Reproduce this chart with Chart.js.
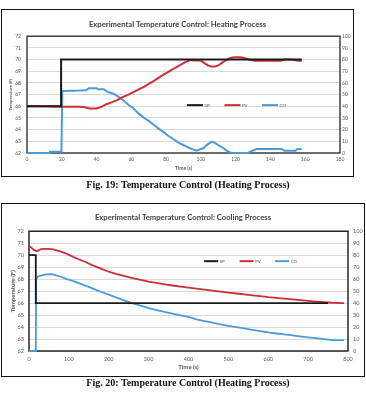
<!DOCTYPE html>
<html><head><meta charset="utf-8">
<script src="https://cdn.jsdelivr.net/npm/chart.js@4.4.1/dist/chart.umd.min.js"></script>
<style>
html,body{margin:0;padding:0;background:#fff;width:366px;height:401px;overflow:hidden;position:relative}
canvas{position:absolute}
.frame{position:absolute;border:1.5px solid #111;box-sizing:border-box;pointer-events:none}
.cap{position:absolute;font-family:"Liberation Serif","Times New Roman",serif;font-weight:bold;font-size:10px;color:#111;white-space:nowrap;transform:translateX(-50%);line-height:12px}
</style></head><body>
<canvas id="c1" width="353" height="168" style="left:1px;top:9px"></canvas>
<div class="frame" style="left:1px;top:9px;width:353px;height:168px"></div>
<div class="cap" style="left:188px;top:179px">Fig. 19: Temperature Control (Heating Process)</div>
<canvas id="c2" width="364" height="174" style="left:1px;top:203px"></canvas>
<div class="frame" style="left:1px;top:203px;width:364px;height:174px"></div>
<div class="cap" style="left:188px;top:377px">Fig. 20: Temperature Control (Heating Process)</div>
<script>
// ---------- Heating process (Fig. 19) ----------
const heatTitle = 'Experimental Temperature Control: Heating Process';
const heatSpTime = [0, 19.6, 19.6, 158];
const heatSpTemp = [66, 66, 70, 70];
const heatPvTime = [0, 10, 20, 30, 33, 36, 40, 43, 46, 49, 52, 55, 58, 61, 64, 67, 70, 73, 76, 79, 82, 85, 88, 91, 94, 97, 100, 102, 104, 106, 108, 110, 112, 114, 116, 118, 120, 122, 124, 126, 128, 131, 135, 140, 146, 148, 152, 156, 158];
const heatPvTemp = [66.0, 66.0, 65.97, 65.97, 65.92, 65.82, 65.82, 65.97, 66.2, 66.36, 66.55, 66.78, 66.98, 67.2, 67.42, 67.65, 67.92, 68.18, 68.47, 68.75, 69.02, 69.28, 69.52, 69.78, 69.95, 69.92, 69.92, 69.7, 69.5, 69.4, 69.4, 69.5, 69.72, 69.9, 70.08, 70.18, 70.2, 70.2, 70.17, 70.08, 70.0, 69.9, 69.9, 69.9, 69.9, 70.0, 70.0, 69.9, 69.9];
const heatCoTime = [0, 13, 13.2, 19.8, 20.3, 30, 34, 35.5, 40, 41, 44, 47, 50, 52, 54.4, 58.3, 61, 64, 67, 70, 73, 75.5, 78, 81.2, 84, 87, 89, 91.8, 94.7, 97.6, 99.5, 101.4, 103.3, 106.2, 108.1, 110, 112.8, 114.8, 116.7, 118, 127, 129, 132, 146.5, 148, 154.5, 155.5, 158];
const heatCoPct = [0, 0, 1, 1, 53.2, 53.5, 53.8, 55.5, 55.5, 54.7, 54.7, 52, 50.5, 48.8, 46.2, 41.3, 38.5, 33.9, 30.5, 27.5, 24, 21.1, 18.5, 14.8, 12, 9.1, 7.5, 5.4, 3.4, 2, 3.2, 4, 6.8, 9.7, 8.7, 6.8, 4.3, 2, 0.5, 0, 0, 1.5, 3.5, 3.5, 2, 2, 3.5, 3.5];

// ---------- Cooling process (Fig. 20) ----------
const coolTitle = 'Experimental Temperature Control: Cooling Process';
const coolSpTime = [0, 17, 17, 750];
const coolSpTemp = [70, 70, 66, 66];
const coolPvTime = [0, 5, 10, 15, 20, 25, 30, 40, 50, 60, 70, 80, 90, 100, 120, 140, 160, 180, 200, 220, 240, 260, 280, 300, 320, 340, 360, 380, 400, 420, 440, 460, 480, 500, 520, 540, 560, 580, 600, 620, 640, 660, 680, 700, 720, 740, 760, 790];
const coolPvTemp = [70.8, 70.65, 70.5, 70.4, 70.33, 70.42, 70.5, 70.52, 70.52, 70.48, 70.4, 70.3, 70.18, 70.03, 69.72, 69.45, 69.15, 68.88, 68.62, 68.42, 68.25, 68.08, 67.94, 67.8, 67.68, 67.57, 67.47, 67.38, 67.3, 67.21, 67.13, 67.04, 66.96, 66.88, 66.8, 66.72, 66.65, 66.58, 66.5, 66.44, 66.37, 66.31, 66.25, 66.19, 66.13, 66.08, 66.03, 66.0];
const coolCoTime = [0, 17, 18, 22, 30, 37, 45, 54, 62, 70, 80, 95, 110, 130, 150, 165, 180, 200, 220, 240, 260, 280, 300, 320, 340, 360, 380, 400, 420, 440, 460, 480, 500, 520, 540, 560, 580, 600, 620, 640, 660, 680, 700, 720, 740, 760, 790];
const coolCoPct = [0, 0, 60.5, 62, 63, 63.6, 64, 64.2, 63.8, 63, 62, 60, 58.5, 56, 53.5, 51.5, 49.5, 47, 44.5, 42, 39.8, 37.8, 35.8, 34.2, 32.6, 31.2, 29.8, 28.5, 26.5, 25, 23.6, 22.3, 21, 19.9, 18.8, 17.7, 16.6, 15.5, 14.6, 13.8, 13, 12.2, 11.4, 10.7, 10, 9, 9];

const seriesNames = ['SP', 'PV', 'CO'];
const seriesColors = ['#1a1a1a', '#cf2f34', '#4d9bd6'];

Chart.defaults.font.family = 'Lato';
Chart.defaults.color = '#595959';

function pts(t, v) { return t.map((x, i) => ({ x: x, y: v[i] })); }

const frameAndLegend = {
  id: 'frameAndLegend',
  beforeDatasetsDraw(chart) {
    const o = chart.options.plugins.frameAndLegend;
    const a = chart.chartArea, ctx = chart.ctx;
    ctx.save();
    ctx.strokeStyle = o.borderColor;
    ctx.lineWidth = o.borderWidth;
    ctx.strokeRect(a.left, a.top, a.right - a.left, a.bottom - a.top);
    ctx.restore();
  },
  afterDatasetsDraw(chart) {
    const o = chart.options.plugins.frameAndLegend;
    const a = chart.chartArea, ctx = chart.ctx;
    const y = a.top + o.legendY * (a.bottom - a.top);
    let x = a.left + o.legendX * (a.right - a.left);
    ctx.save();
    ctx.font = o.legendFontSize + 'px Lato';
    ctx.textBaseline = 'middle';
    ctx.textAlign = 'left';
    chart.data.datasets.forEach(ds => {
      ctx.strokeStyle = ds.borderColor;
      ctx.lineWidth = 2;
      ctx.beginPath();
      ctx.moveTo(x, y);
      ctx.lineTo(x + o.lineLen, y);
      ctx.stroke();
      ctx.fillStyle = '#595959';
      ctx.fillText(ds.label, x + o.lineLen + 1.5, y + 0.3);
      x += o.spacing;
    });
    ctx.restore();
  }
};

function makeChart(id, cfg) {
  const datasets = cfg.series.map((s, i) => ({
    label: seriesNames[i],
    data: pts(s[0], s[1]),
    yAxisID: i === 2 ? 'y1' : 'y',
    borderColor: seriesColors[i],
    backgroundColor: seriesColors[i],
    borderWidth: cfg.lineWidth,
    pointRadius: 0,
    tension: 0,
    clip: false,
    fill: false
  }));
  return new Chart(document.getElementById(id), {
    type: 'line',
    data: { datasets },
    plugins: [frameAndLegend],
    options: {
      responsive: false,
      animation: false,
      events: [],
      layout: { padding: { left: 0, right: 0, top: 0, bottom: cfg.padBottom } },
      plugins: {
        legend: { display: false },
        tooltip: { enabled: false },
        title: {
          display: true, text: cfg.title, color: '#404040',
          font: { family: 'Lato', size: 7.7, weight: 'bold', lineHeight: 1.2 },
          padding: { top: cfg.titlePadTop, bottom: cfg.titlePadBottom }
        },
        frameAndLegend: cfg.legend
      },
      scales: {
        x: {
          type: 'linear', min: 0, max: cfg.xMax,
          ticks: { stepSize: cfg.xStep, padding: cfg.xTickPad, font: { size: cfg.tickSize }, color: '#595959', maxRotation: 0 },
          grid: { display: false, drawTicks: false },
          border: { display: false },
          title: { display: true, text: 'Time (s)', color: '#595959', font: { size: cfg.xTitleSize, weight: 'bold' }, padding: { top: 0, bottom: 2 } },
          afterFit(s) { s.height = cfg.xHeight; }
        },
        y: {
          position: 'left', min: 62, max: 72,
          ticks: { stepSize: 1, padding: cfg.yTickPad, font: { size: cfg.tickSize }, color: '#595959' },
          grid: { color: '#d9d9d9', lineWidth: 1, drawTicks: false },
          border: { display: false },
          title: { display: true, text: 'Temperature (F)', color: '#595959', font: { size: cfg.yTitleSize, weight: 'bold' }, padding: { top: cfg.yTitlePad, bottom: 0 } },
          afterFit(s) { s.width = cfg.leftW; }
        },
        y1: {
          position: 'right', min: 0, max: 100,
          ticks: { stepSize: 10, padding: cfg.y1TickPad, font: { size: cfg.tickSize }, color: '#595959' },
          grid: { drawOnChartArea: false, drawTicks: false },
          border: { display: false },
          afterFit(s) { s.width = cfg.rightW; }
        }
      }
    }
  });
}

makeChart('c1', {
  title: heatTitle,
  series: [[heatSpTime, heatSpTemp], [heatPvTime, heatPvTemp], [heatCoTime, heatCoPct]],
  lineWidth: 2,
  xMax: 180, xStep: 20, xTickPad: 3, xHeight: 20, padBottom: 4,
  tickSize: 5, xTitleSize: 5, yTitleSize: 4.5, yTitlePad: 7.3,
  titlePadTop: 10.5, titlePadBottom: 7.5,
  leftW: 26, rightW: 14, yTickPad: 6, y1TickPad: 2,
  legend: { borderColor: '#404040', borderWidth: 1.5, legendX: 0.511, legendY: 0.59, lineLen: 16, spacing: 37.5, legendFontSize: 4.5 }
});

makeChart('c2', {
  title: coolTitle,
  series: [[coolSpTime, coolSpTemp], [coolPvTime, coolPvTemp], [coolCoTime, coolCoPct]],
  lineWidth: 1.8,
  xMax: 800, xStep: 100, xTickPad: 4.7, xHeight: 22, padBottom: 4,
  tickSize: 5.5, xTitleSize: 6, yTitleSize: 6, yTitlePad: 8.4,
  titlePadTop: 9.5, titlePadBottom: 9.5,
  leftW: 28, rightW: 17, yTickPad: 5, y1TickPad: 5,
  legend: { borderColor: '#262626', borderWidth: 1.5, legendX: 0.549, legendY: 0.25, lineLen: 14, spacing: 35.5, legendFontSize: 4.5 }
});
</script>
</body></html>
